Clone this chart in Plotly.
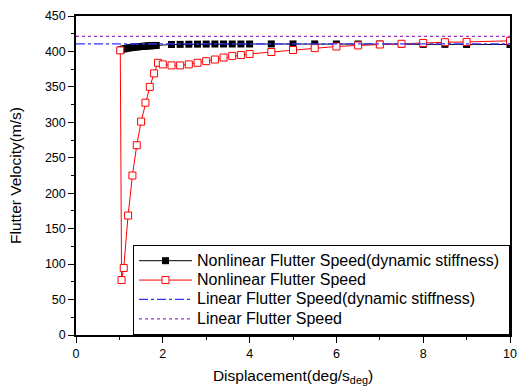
import plotly.graph_objects as go

# Nonlinear flutter speed (dynamic stiffness)
x_nl_ds = [1.02, 1.05, 1.1, 1.15, 1.2, 1.25, 1.3, 1.35, 1.4, 1.45, 1.5, 1.55, 1.6, 1.65, 1.7,
           1.75, 1.8, 1.85, 2.2, 2.4, 2.6, 2.8, 3.0, 3.2, 3.4, 3.6, 3.8, 4.0,
           4.5, 5.0, 5.5, 6.0, 6.5, 7.0, 7.5, 8.0, 8.5, 9.0, 10.0]
v_nl_ds = [401.5, 402.5, 403.5, 404.2, 404.8, 405.3, 405.7, 406.1, 406.4, 406.7, 407.0, 407.2,
           407.5, 407.7, 407.9, 408.1, 408.3, 408.5, 409.8, 410.0, 410.2, 410.3, 410.4, 410.5,
           410.5, 410.5, 410.5, 410.5, 410.6, 410.6, 410.6, 410.5, 410.5, 410.4, 410.3, 410.0,
           410.0, 409.8, 409.8]

# Nonlinear flutter speed
x_nl = [1.02, 1.05, 1.1, 1.2, 1.3, 1.4, 1.5, 1.6, 1.7, 1.8, 1.89, 2.0, 2.2, 2.4, 2.6, 2.8,
        3.0, 3.2, 3.4, 3.6, 3.8, 4.0, 4.5, 5.0, 5.5, 6.0, 6.5, 7.0, 7.5, 8.0, 8.5, 9.0, 10.0]
v_nl = [401.5, 77.5, 94.6, 168.5, 225.0, 267.7, 301.0, 327.7, 350.0, 369.0, 384.0, 381.7,
        380.3, 380.3, 381.7, 384.0, 386.3, 388.6, 391.4, 393.7, 395.0, 396.5, 399.2, 402.0,
        404.7, 407.0, 408.5, 409.8, 410.8, 412.0, 413.0, 413.4, 415.0]

# Linear flutter speeds
x_lin = [0, 10]
v_lin_ds = [410.8, 410.8]
v_lin = [421.3, 421.3]

series_names = ["Nonlinear Flutter Speed(dynamic stiffness)",
                "Nonlinear Flutter Speed",
                "Linear Flutter Speed(dynamic stiffness)",
                "Linear Flutter Speed"]

FONT = "Liberation Sans, Arial, sans-serif"


def lname(s, pad=0):
    return '<span style="font-size:16px">' + s + "\u00a0" * pad + "</span>"


fig = go.Figure()
fig.add_trace(go.Scatter(x=x_nl_ds, y=v_nl_ds, mode="lines+markers",
                         name=lname(series_names[0], 1),
                         line=dict(color="black", width=1),
                         marker=dict(symbol="square", size=7, color="black")))
fig.add_trace(go.Scatter(x=x_nl, y=v_nl, mode="lines+markers",
                         name=lname(series_names[1]),
                         line=dict(color="#ff0000", width=1),
                         marker=dict(symbol="square", size=7, color="white",
                                     line=dict(color="#ff0000", width=1))))
fig.add_trace(go.Scatter(x=x_lin, y=v_lin_ds, mode="lines",
                         name=lname(series_names[2]),
                         line=dict(color="#3333ff", width=1.2, dash="dashdot")))
fig.add_trace(go.Scatter(x=x_lin, y=v_lin, mode="lines",
                         name=lname(series_names[3]),
                         line=dict(color="#9933cc", width=1.2, dash="dot")))

axis_common = dict(showline=True, linecolor="black", linewidth=1.5, mirror=True,
                   showgrid=False, zeroline=False, ticks="outside", tickcolor="black",
                   ticklen=6, tickwidth=1,
                   tickfont=dict(family=FONT, size=12.5, color="black"))

fig.update_layout(
    width=526, height=392,
    margin=dict(l=76, r=9, t=10, b=57),
    paper_bgcolor="white", plot_bgcolor="white",
    font=dict(family=FONT, size=12, color="black"),
    xaxis=dict(range=[0, 10], dtick=2, tick0=0,
               minor=dict(dtick=1, ticks="outside", ticklen=3, tickcolor="black"),
               title=dict(text="Displacement(deg/s<sub>deg</sub>)", standoff=10,
                          font=dict(family=FONT, size=15.5)),
               **axis_common),
    yaxis=dict(range=[0, 450], dtick=50, tick0=0,
               minor=dict(dtick=25, ticks="outside", ticklen=3, tickcolor="black"),
               title=dict(text="Flutter Velocity(m/s)", standoff=19,
                          font=dict(family=FONT, size=15.5)),
               **axis_common),
    legend=dict(x=1.0, y=0.0, xanchor="right", yanchor="bottom",
                bordercolor="black", borderwidth=1, bgcolor="white",
                font=dict(family=FONT, size=12.6), tracegroupgap=0,
                itemwidth=53),
    showlegend=True,
)

fig.write_html("out.html")
